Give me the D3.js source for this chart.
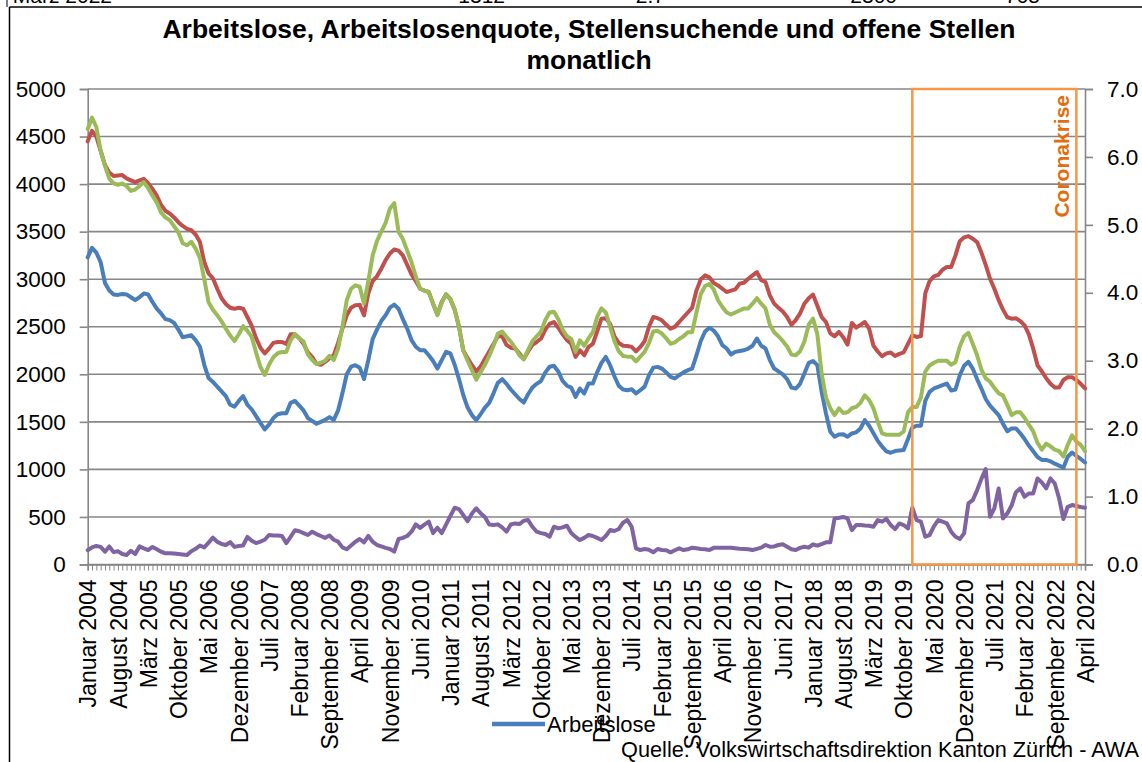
<!DOCTYPE html>
<html><head><meta charset="utf-8">
<script src="https://cdn.jsdelivr.net/npm/d3@7/dist/d3.min.js"></script>
<style>
body{margin:0;background:#fff}
svg{display:block}
text{font-family:"Liberation Sans",Arial,Helvetica,sans-serif;fill:#000}
</style>
</head><body>
<svg id="chart" width="1142" height="762"></svg>
<script>
// ---------- DATA (monthly, Januar 2004 – April 2023, 232 months) ----------
const tickLabels = ["Januar 2004","August 2004","März 2005","Oktober 2005","Mai 2006","Dezember 2006","Juli 2007","Februar 2008","September 2008","April 2009","November 2009","Juni 2010","Januar 2011","August 2011","März 2012","Oktober 2012","Mai 2013","Dezember 2013","Juli 2014","Februar 2015","September 2015","April 2016","November 2016","Juni 2017","Januar 2018","August 2018","März 2019","Oktober 2019","Mai 2020","Dezember 2020","Juli 2021","Februar 2022","September 2022","April 2022"];
const tickStep = 7;

const arbeitslose = [
3230,3330,3280,3180,2960,2880,2840,2835,2845,2840,
2810,2780,2810,2850,2840,2760,2690,2640,2580,2570,
2540,2470,2390,2400,2410,2360,2290,2100,1960,1920,
1870,1820,1770,1680,1660,1720,1770,1680,1630,1560,
1490,1420,1470,1540,1580,1590,1590,1700,1720,1670,
1620,1540,1510,1480,1500,1520,1550,1520,1620,1800,
2000,2080,2096,2070,1950,2150,2370,2470,2560,2621,
2700,2733,2690,2580,2480,2360,2290,2253,2253,2200,
2140,2060,2150,2236,2220,2100,1950,1780,1650,1571,
1518,1580,1650,1700,1800,1910,1949,1900,1840,1790,
1740,1703,1790,1860,1900,1930,2020,2080,2090,2030,
1930,1880,1860,1763,1851,1798,1903,1903,2020,2120,
2183,2096,1980,1880,1840,1833,1843,1798,1833,1870,
1990,2070,2078,2060,2020,1973,1956,1990,2020,2043,
2060,2200,2350,2450,2490,2460,2400,2306,2271,2208,
2236,2245,2253,2271,2300,2376,2300,2271,2150,2061,
2030,1998,1950,1860,1850,1900,2008,2120,2140,2096,
1816,1588,1396,1343,1368,1370,1343,1378,1390,1430,
1518,1460,1380,1300,1240,1190,1175,1193,1200,1203,
1320,1440,1459,1459,1720,1816,1851,1868,1886,1903,
1830,1840,1990,2090,2131,2060,1950,1850,1740,1670,
1620,1570,1480,1400,1431,1431,1380,1320,1250,1190,
1130,1100,1100,1085,1060,1040,1017,1133,1178,1143,
1110,1073];

const stellensuchende = [
4450,4560,4500,4350,4200,4120,4085,4090,4095,4060,
4040,4020,4040,4055,4010,3950,3880,3780,3720,3690,
3650,3600,3560,3530,3515,3470,3390,3180,3060,3010,
2900,2800,2740,2700,2690,2700,2690,2600,2510,2380,
2280,2220,2270,2330,2340,2340,2320,2420,2420,2380,
2320,2230,2180,2110,2100,2130,2170,2200,2330,2480,
2620,2700,2725,2730,2620,2850,2980,3030,3110,3200,
3270,3313,3300,3250,3150,3050,2980,2900,2880,2866,
2740,2630,2760,2840,2790,2680,2500,2250,2170,2095,
2030,2080,2160,2240,2320,2400,2400,2310,2280,2270,
2220,2160,2240,2310,2340,2376,2470,2530,2550,2490,
2420,2360,2320,2183,2253,2200,2288,2320,2450,2585,
2590,2530,2400,2330,2300,2298,2288,2242,2288,2347,
2500,2603,2590,2568,2520,2480,2498,2550,2600,2650,
2700,2880,3000,3040,3020,2960,2935,2900,2865,2880,
2893,2953,2963,3005,3040,3075,2990,2970,2830,2743,
2700,2660,2603,2520,2570,2640,2743,2800,2838,2720,
2603,2550,2430,2400,2445,2390,2312,2540,2490,2520,
2550,2480,2300,2240,2190,2220,2230,2193,2215,2230,
2320,2410,2393,2403,2850,2980,3030,3045,3100,3128,
3128,3250,3400,3440,3453,3425,3390,3280,3150,3005,
2900,2780,2680,2600,2585,2590,2560,2515,2420,2270,
2095,2030,1960,1900,1860,1860,1940,1970,1970,1940,
1900,1851];

// Arbeitslosenquote in % (rechte Achse)
const arbeitslosenquote = [
6.41,6.58,6.44,6.09,5.87,5.68,5.61,5.59,5.61,5.57,
5.50,5.52,5.57,5.63,5.54,5.43,5.33,5.18,5.11,5.07,
4.98,4.89,4.73,4.70,4.75,4.65,4.51,4.20,3.86,3.75,
3.67,3.58,3.47,3.37,3.29,3.39,3.51,3.44,3.35,3.12,
2.91,2.79,2.94,3.05,3.11,3.13,3.13,3.30,3.39,3.33,
3.28,3.09,3.01,2.95,2.97,3.00,3.07,3.01,3.18,3.50,
3.89,4.06,4.11,4.09,3.84,4.17,4.55,4.76,4.90,5.03,
5.24,5.32,4.90,4.79,4.62,4.45,4.24,4.06,4.03,4.01,
3.84,3.67,3.85,3.98,3.91,3.75,3.50,3.15,3.00,2.86,
2.72,2.83,2.94,3.07,3.22,3.40,3.43,3.35,3.28,3.19,
3.08,3.02,3.16,3.29,3.36,3.43,3.60,3.71,3.72,3.61,
3.46,3.36,3.32,3.13,3.30,3.22,3.33,3.42,3.64,3.77,
3.71,3.50,3.29,3.14,3.07,3.06,3.06,2.99,3.06,3.13,
3.26,3.43,3.44,3.40,3.33,3.25,3.27,3.32,3.36,3.42,
3.42,3.71,3.98,4.10,4.13,4.05,3.89,3.79,3.71,3.68,
3.71,3.74,3.77,3.77,3.84,3.92,3.84,3.77,3.53,3.42,
3.36,3.29,3.21,3.09,3.08,3.14,3.28,3.53,3.62,3.39,
2.81,2.46,2.30,2.20,2.30,2.23,2.24,2.30,2.32,2.38,
2.49,2.42,2.30,2.10,1.93,1.91,1.91,1.91,1.91,1.96,
2.24,2.32,2.32,2.46,2.84,2.93,2.97,3.00,3.00,3.00,
2.94,2.98,3.21,3.36,3.41,3.25,3.08,2.87,2.74,2.69,
2.60,2.52,2.49,2.35,2.20,2.24,2.24,2.16,2.06,1.96,
1.79,1.69,1.78,1.74,1.69,1.67,1.59,1.76,1.90,1.81,
1.76,1.67];

const offeneStellen = [
150,180,195,185,135,190,130,140,110,100,
145,110,190,170,152,185,160,135,117,117,
115,110,105,100,140,165,200,180,230,282,
240,215,205,235,185,195,200,290,250,225,
240,260,310,305,305,300,225,290,360,350,
330,310,345,320,300,280,305,260,240,180,
160,200,240,268,233,300,240,205,190,175,
163,135,268,280,300,345,422,385,420,450,
330,387,330,420,510,597,583,520,455,537,
590,540,500,420,415,422,390,345,420,432,
425,460,467,397,345,330,320,292,397,380,
390,408,330,290,257,280,310,300,280,257,
300,362,352,373,440,467,397,170,152,163,
155,128,163,152,150,128,150,170,152,160,
177,170,163,160,152,175,177,177,177,175,
170,165,163,160,152,165,177,205,187,190,
205,212,187,160,152,175,187,177,212,198,
215,233,233,485,490,500,485,362,415,415,
410,408,397,467,450,480,415,373,432,415,
380,597,467,450,292,310,400,467,450,432,
345,292,268,327,642,677,780,900,1003,501,
590,800,485,537,620,760,800,712,747,747,
905,863,800,905,852,695,478,607,625,615,
605,597];

const leftTicks  = [0,500,1000,1500,2000,2500,3000,3500,4000,4500,5000];
const rightTicks = [0,1,2,3,4,5,6,7];
const coronaStart = 191, coronaEnd = 229; // Monatsindizes des Kastens
const headerTexts = [["März 2022",112],["1312",505],["2.7",665],["2300",897],["705",1040]];

// ---------- CHART ----------
const svg = d3.select("#chart");
const W = 1142, H = 762;
const m = {left: 87.7, right: 1085, top: 89, bottom: 564.5};
const n = arbeitslose.length;
const idx = d3.range(n);

const x = d3.scaleLinear().domain([0, n - 1]).range([m.left, m.right]);
const yL = d3.scaleLinear().domain([0, 5000]).range([m.bottom, m.top]);
const yR = d3.scaleLinear().domain([0, 7]).range([m.bottom, m.top]);

const gridCol = "#878787";
const font = '"Liberation Sans",Arial,sans-serif';

// frame / header remnants
svg.append("line").attr("x1",9.5).attr("x2",W).attr("y1",7).attr("y2",7).attr("stroke","#000").attr("stroke-width",1.5);
svg.append("line").attr("x1",9.5).attr("x2",9.5).attr("y1",7).attr("y2",H).attr("stroke","#000").attr("stroke-width",1.5);
svg.append("line").attr("x1",7).attr("x2",7).attr("y1",0).attr("y2",7).attr("stroke","#000").attr("stroke-width",1);
svg.selectAll("text.hdr").data(headerTexts).join("text").attr("class","hdr")
  .attr("x",d=>d[1]).attr("y",3).attr("text-anchor","end").style("font-size","21px").text(d=>d[0]);

// title
svg.append("text").attr("x",589).attr("y",38).attr("text-anchor","middle")
  .style("font-size","26.5px").style("font-weight","bold")
  .text("Arbeitslose, Arbeitslosenquote, Stellensuchende und offene Stellen");
svg.append("text").attr("x",589).attr("y",69).attr("text-anchor","middle")
  .style("font-size","26.5px").style("font-weight","bold").text("monatlich");

// gridlines
svg.append("g").selectAll("line").data(leftTicks).join("line")
  .attr("x1",m.left).attr("x2",m.right).attr("y1",d=>yL(d)).attr("y2",d=>yL(d))
  .attr("stroke",gridCol).attr("stroke-width",1.6);

// left axis
const gL = svg.append("g").attr("transform",`translate(${m.left},0)`)
  .call(d3.axisLeft(yL).tickValues(leftTicks).tickSize(8).tickPadding(14).tickFormat(d3.format("d")));
gL.select(".domain").attr("stroke",gridCol).attr("stroke-width",1.6);
gL.selectAll(".tick line").attr("stroke",gridCol).attr("stroke-width",1.6);
gL.selectAll("text").style("font-family",font).style("font-size","22.5px").attr("fill","#000");

// right axis
const gR = svg.append("g").attr("transform",`translate(${m.right},0)`)
  .call(d3.axisRight(yR).tickValues(rightTicks).tickSize(8).tickPadding(14).tickFormat(d3.format(".1f")));
gR.select(".domain").attr("stroke",gridCol).attr("stroke-width",1.6);
gR.selectAll(".tick line").attr("stroke",gridCol).attr("stroke-width",1.6);
gR.selectAll("text").style("font-family",font).style("font-size","22.5px").attr("fill","#000");

// x axis: monthly minor ticks
const gX = svg.append("g").attr("transform",`translate(0,${m.bottom})`)
  .call(d3.axisBottom(x).tickValues(idx).tickSize(6).tickFormat(""));
gX.select(".domain").attr("stroke",gridCol).attr("stroke-width",1.6);
gX.selectAll(".tick line").attr("stroke",gridCol).attr("stroke-width",1);

// x labels (every 7th month)
const labelIdx = idx.filter(i => i % tickStep === 0);
const gXL = svg.append("g").attr("transform",`translate(0,${m.bottom})`)
  .call(d3.axisBottom(x).tickValues(labelIdx).tickSize(0).tickFormat((d,i)=>tickLabels[i]));
gXL.select(".domain").remove();
gXL.selectAll("text").style("font-family",font).style("font-size","23px").attr("fill","#000")
  .attr("transform","rotate(-90)").attr("x",-15).attr("y",0).attr("dy","0.36em")
  .style("text-anchor","end");

// lines
const lineL = d3.line().x((d,i)=>x(i)).y(d=>yL(d));
const lineR = d3.line().x((d,i)=>x(i)).y(d=>yR(d));
const series = [
  {data: offeneStellen, color:"#8064a2", gen: lineL},
  {data: arbeitslose, color:"#4a7ebb", gen: lineL},
  {data: stellensuchende, color:"#c0504d", gen: lineL},
  {data: arbeitslosenquote, color:"#9bbb59", gen: lineR}
];
svg.append("g").selectAll("path").data(series).join("path")
  .attr("d",d=>d.gen(d.data)).attr("fill","none").attr("stroke",d=>d.color)
  .attr("stroke-width",4).attr("stroke-linejoin","round").attr("stroke-linecap","round");

// Coronakrise box
svg.append("rect").attr("x",x(coronaStart)).attr("y",m.top).attr("width",x(coronaEnd)-x(coronaStart))
  .attr("height",m.bottom-m.top).attr("fill","none").attr("stroke","#f79646").attr("stroke-width",2.5);
svg.append("text").attr("transform",`translate(1069,95) rotate(-90)`).attr("text-anchor","end")
  .style("font-size","21px").style("font-weight","bold").style("fill","#e46c0a").text("Coronakrise");

// legend
svg.append("line").attr("x1",492).attr("x2",545).attr("y1",724).attr("y2",724)
  .attr("stroke","#4a7ebb").attr("stroke-width",4.5);
svg.append("text").attr("x",547).attr("y",732).style("font-size","22px").text("Arbeitslose");

// source
svg.append("text").attr("x",1139).attr("y",757).attr("text-anchor","end").style("font-size","21.7px")
  .text("Quelle: Volkswirtschaftsdirektion Kanton Zürich - AWA");
</script>
</body></html>
